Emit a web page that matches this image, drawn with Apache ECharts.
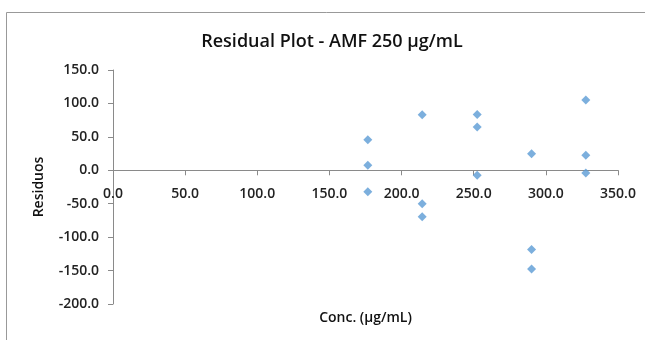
<!DOCTYPE html>
<html>
<head>
<meta charset="utf-8">
<script src="https://cdn.jsdelivr.net/npm/echarts@6/dist/echarts.min.js"></script>
<style>
  html, body { margin: 0; padding: 0; background: #fff; }
  #chart { width: 645px; height: 340px; }
</style>
</head>
<body>
<div id="chart"></div>
<script>
// concentrations (x) and residuals (y)
var conc = [176.6, 176.6, 176.6, 214.3, 214.3, 214.3, 252.4, 252.4, 252.4, 290.1, 290.1, 290.1, 327.7, 327.7, 327.7];
var residuos = [45.6, 7.5, -32.0, 83.2, -50.0, -69.5, 83.6, 64.6, -7.5, 24.6, -118.6, -147.6, 105.0, 22.5, -4.0];

var points = conc.map(function (c, i) { return [c, residuos[i]]; });

var chart = echarts.init(document.getElementById('chart'));
var font = 'Open Sans';

var gridTop = 70, gridBottom = 36;
var yMin = -200, yMax = 150;
// move x axis (line + labels) up to y = 0, ECharts 6 leaves labels at the edge otherwise
var plotH = 340 - gridTop - gridBottom;
var zeroOffset = -plotH * (0 - yMin) / (yMax - yMin);

var option = {
  animation: false,
  title: {
    text: 'Residual Plot - AMF 250 µg/mL',
    left: 327,
    top: 28,
    textAlign: 'center',
    textStyle: { fontFamily: font, fontSize: 18, fontWeight: 600, color: '#111' }
  },
  graphic: [{
    type: 'rect',
    shape: { x: 6.5, y: 12.5, width: 700, height: 400 },
    style: { fill: 'none', stroke: '#999', lineWidth: 1 },
    silent: true
  }],
  grid: { left: 113, right: 27, top: gridTop, bottom: gridBottom, containLabel: false, outerBoundsMode: 'none' },
  xAxis: {
    type: 'value',
    min: 0,
    max: 350,
    interval: 50,
    offset: zeroOffset,
    name: 'Conc. (µg/mL)',
    nameLocation: 'middle',
    nameGap: 141,
    nameTextStyle: { fontFamily: font, fontSize: 14, fontWeight: 600, color: '#111' },
    axisLine: { onZero: false, lineStyle: { color: '#8a8a8a', width: 1 } },
    axisTick: { show: true, length: 5, lineStyle: { color: '#8a8a8a' } },
    splitLine: { show: false },
    axisLabel: {
      margin: 17,
      fontFamily: font, fontSize: 14, fontWeight: 600, color: '#222',
      formatter: function (v) { return v.toFixed(1); }
    }
  },
  yAxis: {
    type: 'value',
    min: yMin,
    max: yMax,
    interval: 50,
    name: 'Residuos',
    nameLocation: 'middle',
    nameRotate: 90,
    nameGap: 67,
    nameTextStyle: { fontFamily: font, fontSize: 14, fontWeight: 600, color: '#111' },
    axisLine: { show: true, onZero: false, lineStyle: { color: '#8a8a8a', width: 1 } },
    axisTick: { show: true, length: 5, lineStyle: { color: '#8a8a8a' } },
    splitLine: { show: false },
    axisLabel: {
      margin: 14,
      fontFamily: font, fontSize: 14, fontWeight: 600, color: '#222',
      formatter: function (v) { return v.toFixed(1); }
    }
  },
  series: [{
    type: 'scatter',
    data: points,
    symbol: 'diamond',
    symbolSize: 9,
    itemStyle: { color: '#5B9BD5' }
  }]
};

chart.setOption(option);
</script>
</body>
</html>
